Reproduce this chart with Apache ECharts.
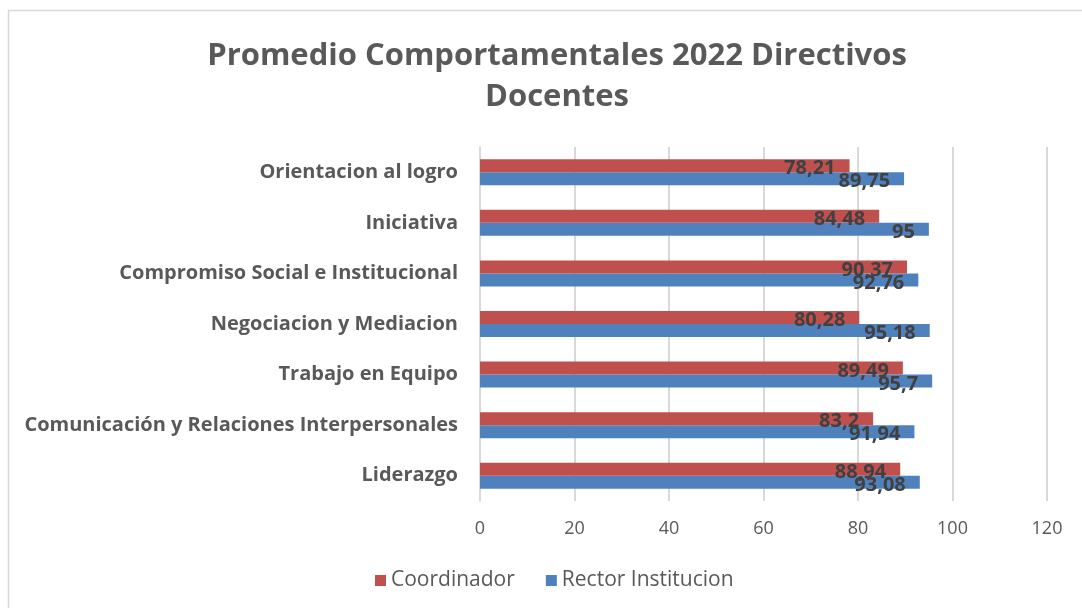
<!DOCTYPE html>
<html><head><meta charset="utf-8">
<script src="https://cdn.jsdelivr.net/npm/echarts@6/dist/echarts.min.js"></script>
<style>html,body{margin:0;padding:0;background:#fff}#c{width:1082px;height:608px}</style>
</head><body><div id="c"></div>
<script>
// categories listed bottom-to-top
const categories = ["Liderazgo","Comunicación y Relaciones Interpersonales","Trabajo en Equipo","Negociacion y Mediacion","Compromiso Social e Institucional","Iniciativa","Orientacion al logro"];
const coordinador = [88.94, 83.2, 89.49, 80.28, 90.37, 84.48, 78.21];
const rector = [93.08, 91.94, 95.7, 95.18, 92.76, 95, 89.75];
const xTicks = [0, 20, 40, 60, 80, 100, 120];

const chart = echarts.init(document.getElementById('c'));
const fmt = p => String(p.value).replace('.', ',');
const lbl = {show:true, position:'insideRight', distance:14, offset:[0,3], color:'#404040', fontSize:20, fontWeight:'bold', fontFamily:'Open Sans', formatter:fmt};
chart.setOption({
  animation:false,
  graphic:[{type:'rect', shape:{x:8.5,y:10.5,width:1200,height:800}, style:{fill:'none', stroke:'#d9d9d9', lineWidth:1.5}, silent:true}],
  title:{text:'Promedio Comportamentales 2022 Directivos\nDocentes', left:552, top:31, textAlign:'center',
    textStyle:{fontFamily:'Open Sans', fontWeight:'bold', fontSize:31, color:'#595959', lineHeight:41}},
  legend:{data:['Coordinador','Rector Institucion'], bottom:12, left:370, itemWidth:11, itemHeight:11, itemGap:31,
    icon:'rect', textStyle:{fontFamily:'Open Sans', fontSize:21, color:'#595959'}},
  grid:{left:480, right:35, top:147, bottom:107, containLabel:false},
  xAxis:{type:'value', min:xTicks[0], max:xTicks[xTicks.length-1], interval:20,
    axisLabel:{fontFamily:'Open Sans', fontSize:18, color:'#595959', margin:19},
    splitLine:{lineStyle:{color:'#d9d9d9', width:2}}, axisLine:{show:false}, axisTick:{show:false}},
  yAxis:{type:'category', data:categories,
    axisLabel:{fontFamily:'Open Sans', fontSize:20, fontWeight:'bold', color:'#595959', margin:22},
    axisLine:{lineStyle:{color:'#d9d9d9', width:1.5}}, axisTick:{show:false}},
  series:[
    {name:'Coordinador', type:'bar', data:coordinador, barWidth:13, barGap:'0%', itemStyle:{color:'#C0504D'}, label:lbl, z:3},
    {name:'Rector Institucion', type:'bar', data:rector, barWidth:13, barGap:'0%', itemStyle:{color:'#4F81BD'}, label:lbl, z:2}
  ]
});
</script></body></html>
